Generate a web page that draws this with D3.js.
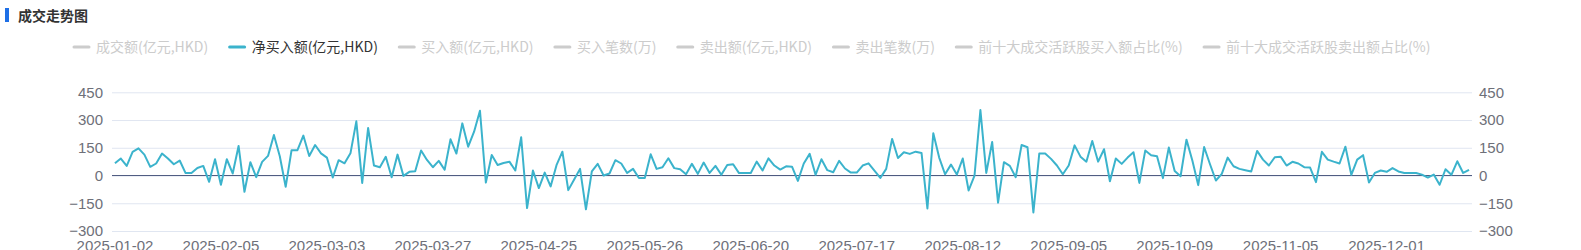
<!DOCTYPE html>
<html lang="zh">
<head>
<meta charset="UTF-8">
<script src="https://cdn.jsdelivr.net/npm/d3@7"></script>
<title>成交走势图</title>
<style>
    body { margin: 0; background: #fff; }
    svg { display: block; font-family: "Noto Sans", "Noto Sans CJK SC", sans-serif; }
</style>
</head>
<body>
<div id="viz"></div>
<script>
    // legend items, only the second one is switched on
    const seriesNames = ["成交额(亿元,HKD)", "净买入额(亿元,HKD)", "买入额(亿元,HKD)", "买入笔数(万)",
        "卖出额(亿元,HKD)", "卖出笔数(万)", "前十大成交活跃股买入额占比(%)", "前十大成交活跃股卖出额占比(%)"]
    const activeSeries = "净买入额(亿元,HKD)"

    // x axis labels, one every 18 trading days
    const tickLabels = ["2025-01-02", "2025-02-05", "2025-03-03", "2025-03-27", "2025-04-25", "2025-05-26",
        "2025-06-20", "2025-07-17", "2025-08-12", "2025-09-05", "2025-10-09", "2025-11-05", "2025-12-01"]
    const labelEvery = 18
    const yTicks = [-300, -150, 0, 150, 300, 450]

    // net buy per trading day (亿元,HKD)
    const netBuy = [66, 92, 52, 128, 147, 113, 47, 65, 119, 92, 61, 81, 13, 14, 41, 52, -34, 88, -50, 88,
        11, 160, -88, 72, -9, 74, 106, 219, 104, -61, 137, 137, 216, 106, 165, 120, 97, -11, 83, 66,
        120, 293, -40, 257, 54, 45, 101, -9, 113, -2, 20, 23, 135, 84, 45, 79, 31, 196, 119, 282,
        156, 237, 350, -38, 111, 57, 68, 75, 27, 207, -176, 27, -68, 16, -59, 56, 129, -79, -22,
        36, -183, 22, 63, 0, 11, 83, 65, 14, 36, -13, -14, 115, 36, 45, 93, 40, 34, 7, 63,
        9, 70, 14, 52, 4, 57, 61, 13, 13, 14, 75, 27, 93, 54, 32, 50, 48, -29, 65, 117,
        4, 88, 29, 18, 79, 38, 16, 16, 54, 66, 27, -13, 36, 198, 95, 126, 117, 129, 122, -178,
        228, 97, 7, 59, 5, 92, -81, 0, 354, 14, 181, -147, 72, 52, -9, 165, 153, -200, 119, 119,
        90, 54, 7, 54, 163, 102, 75, 187, 75, 142, -31, 92, 63, 97, 126, -40, 135, 110, 104, -14,
        151, 25, -4, 194, 81, -52, 154, 61, -27, 9, 97, 50, 36, 29, 22, 133, 86, 54, 99, 102,
        54, 74, 65, 45, 43, -36, 128, 86, 75, 65, 156, 4, 86, 110, -38, 14, 27, 20, 40, 22,
        14, 13, 14, 5, -11, 5, -50, 34, 4, 77, 14, 31]

    const width = 1581
    const height = 250
    const margin = {top: 92.3, left: 112, right: 109, bottom: 19}
    const lineColor = "#3bb3cc"
    const axisText = "#6e7079"

    const svg = d3.select("#viz")
        .append("svg")
        .attr("width", width)
        .attr("height", height)

    // title with blue marker
    svg.append("rect")
        .attr("x", 5).attr("y", 8)
        .attr("width", 4).attr("height", 14)
        .attr("fill", "#1e6fe6")
    svg.append("text")
        .attr("x", 18).attr("y", 20.5)
        .attr("font-family", "Noto Sans CJK SC")
        .attr("font-size", 14)
        .attr("font-weight", "bold")
        .attr("fill", "#333")
        .text("成交走势图")

    // legend, laid out left to right
    const legend = svg.append("g").attr("transform", "translate(73,47)")
    let lx = 0
    seriesNames.forEach(name => {
        const on = name === activeSeries
        const item = legend.append("g").attr("transform", `translate(${lx},0)`)
        item.append("line")
            .attr("x1", 1).attr("x2", 16)
            .attr("stroke", on ? lineColor : "#ccc")
            .attr("stroke-width", 3)
            .attr("stroke-linecap", "round")
        const t = item.append("text")
            .attr("x", 23)
            .attr("dy", "0.35em")
            .attr("font-family", "Noto Sans CJK SC")
            .attr("font-size", 14)
            .attr("fill", on ? "#333" : "#ccc")
            .text(name)
        lx += 23 + t.node().getComputedTextLength() + 20.4
    })

    const idx = d3.range(netBuy.length)
    const xScale = d3.scaleBand()
        .domain(idx)
        .range([margin.left, width - margin.right])
    const yScale = d3.scaleLinear()
        .domain([-300, 450])
        .range([231, margin.top])

    // grid lines
    svg.append("g")
        .attr("transform", `translate(${margin.left},0)`)
        .call(d3.axisLeft(yScale).tickValues(yTicks).tickSize(-(width - margin.left - margin.right)).tickFormat(""))
        .call(g => g.select(".domain").remove())
        .call(g => g.selectAll("line").attr("stroke", "#e0e6f1"))

    // zero line
    svg.append("line")
        .attr("x1", margin.left).attr("x2", width - margin.right)
        .attr("y1", yScale(0)).attr("y2", yScale(0))
        .attr("stroke", "#4f5b80")
        .attr("stroke-width", 1)

    const styleAxis = g => {
        g.select(".domain").remove()
        g.selectAll("line").remove()
        g.selectAll("text").attr("font-size", 15).attr("fill", axisText)
    }

    svg.append("g")
        .attr("transform", `translate(${margin.left - 9},0)`)
        .call(d3.axisLeft(yScale).tickValues(yTicks).tickSize(0).tickPadding(0))
        .call(styleAxis)
    svg.append("g")
        .attr("transform", `translate(${width - margin.right + 7},0)`)
        .call(d3.axisRight(yScale).tickValues(yTicks).tickSize(0).tickPadding(0))
        .call(styleAxis)

    svg.append("g")
        .attr("transform", `translate(0,231)`)
        .call(d3.axisBottom(xScale)
            .tickValues(idx.filter(i => i % labelEvery === 0))
            .tickFormat(i => tickLabels[i / labelEvery])
            .tickSize(0).tickPadding(9))
        .call(styleAxis)

    const lineGen = d3.line()
        .x((d, i) => xScale(i) + xScale.bandwidth() / 2)
        .y(d => yScale(d))

    svg.append("path")
        .datum(netBuy)
        .attr("d", lineGen)
        .attr("fill", "none")
        .attr("stroke", lineColor)
        .attr("stroke-width", 2)
        .attr("stroke-linejoin", "round")
</script>
</body>
</html>
